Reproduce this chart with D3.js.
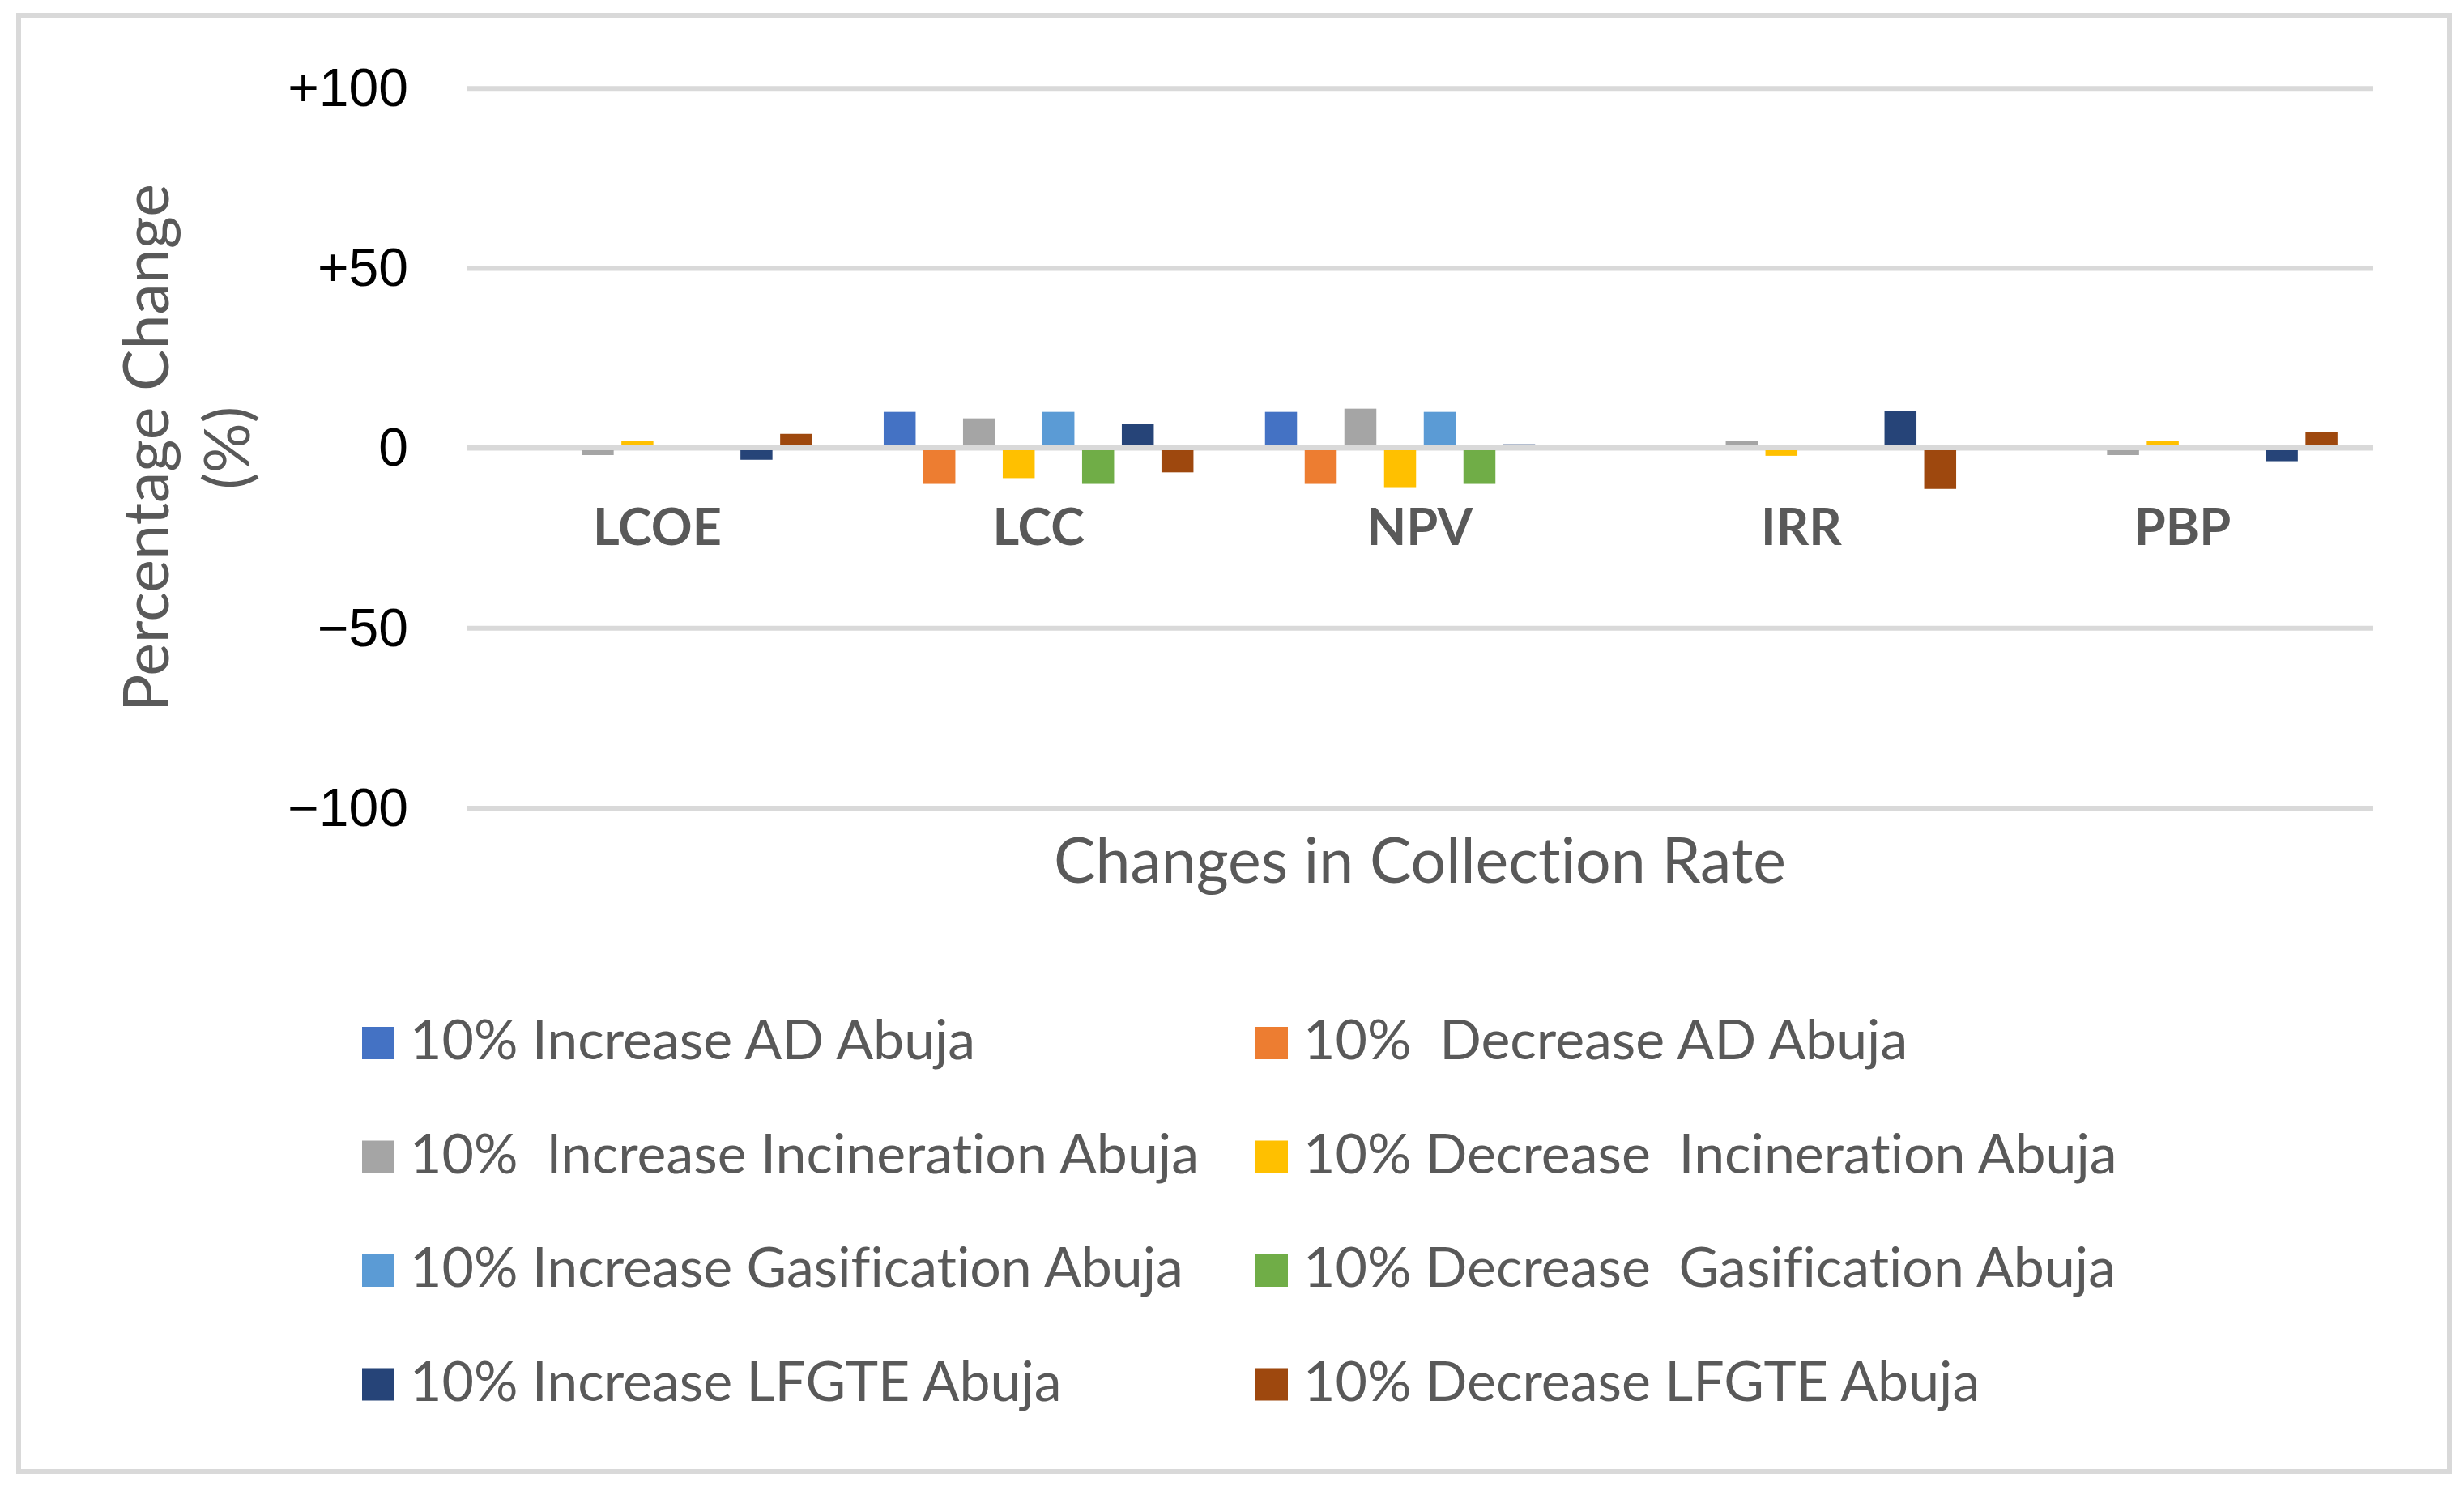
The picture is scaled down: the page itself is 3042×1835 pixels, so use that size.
<!DOCTYPE html>
<html>
<head>
<meta charset="utf-8">
<script src="https://cdn.jsdelivr.net/npm/d3@7"></script>
<style>
  body { margin: 0; background: #ffffff; }
  svg { display: block; }
  text { font-variant-ligatures: none; font-feature-settings: "liga" 0, "clig" 0; }
</style>
</head>
<body>
<div id="chart"></div>
<script>
// categories along the x axis
const categories = ["LCOE", "LCC", "NPV", "IRR", "PBP"];

// series names, as in the legend (double spaces kept)
const seriesNames = [
    "10% Increase AD Abuja",
    "10%  Decrease AD Abuja",
    "10%  Increase Incineration Abuja",
    "10% Decrease  Incineration Abuja",
    "10% Increase Gasification Abuja",
    "10% Decrease  Gasification Abuja",
    "10% Increase LFGTE Abuja",
    "10% Decrease LFGTE Abuja"
];

// percentage change per category
const incAD     = [0, 10, 10, 0, 0];
const decAD     = [0, -10, -10, 0, 0];
const incIncin  = [-2, 8.2, 10.9, 2, -2];
const decIncin  = [2, -8.4, -10.9, -2.2, 2];
const incGas    = [0, 10, 10, 0, 0];
const decGas    = [0, -10, -10, 0, 0];
const incLFGTE  = [-3.3, 6.6, 1, 10.2, -3.7];
const decLFGTE  = [3.9, -6.8, 0, -11.4, 4.4];

const seriesValues = [incAD, decAD, incIncin, decIncin, incGas, decGas, incLFGTE, decLFGTE];
const colors = ["#4472C4", "#ED7D31", "#A5A5A5", "#FFC000", "#5B9BD5", "#70AD47", "#264478", "#9E480E"];

const yTicks = [-100, -50, 0, 50, 100];

const W = 3042, H = 1835;
const plot = { left: 576, right: 2930, top: 108.7, bottom: 997.5 };

let svg = d3.select("#chart")
    .append("svg")
        .attr("width", W)
        .attr("height", H);

// outer frame
svg.append("rect")
    .attr("x", 23).attr("y", 19)
    .attr("width", 3001).attr("height", 1798)
    .attr("fill", "#ffffff")
    .attr("stroke", "#d9d9d9")
    .attr("stroke-width", 6);

let x0 = d3.scaleBand()
    .domain(categories)
    .range([plot.left, plot.right])
    .paddingInner(0.1876)
    .paddingOuter(0.0938);

let x1 = d3.scaleBand()
    .domain(d3.range(seriesNames.length))
    .range([0, x0.bandwidth()])
    .paddingInner(0.194)
    .paddingOuter(0);

let y = d3.scaleLinear()
    .domain([-100, 100])
    .range([plot.bottom, plot.top]);

// y axis with gridlines
let yAxis = svg.append("g")
    .attr("transform", "translate(" + plot.left + ",0)")
    .call(d3.axisLeft(y)
        .tickValues(yTicks)
        .tickSize(-(plot.right - plot.left))
        .tickPadding(72)
        .tickFormat(d => d > 0 ? "+" + d : (d < 0 ? "\u2212" + Math.abs(d) : "0")));

yAxis.select(".domain").remove();
yAxis.selectAll("line")
    .attr("stroke", "#d9d9d9")
    .attr("stroke-width", 6);
yAxis.selectAll("text")
    .attr("dy", "0.33em")
    .style("font-family", "'Liberation Sans', Arial, sans-serif")
    .style("font-size", "66px")
    .attr("fill", "#000000");

// bars
let flat = [];
categories.forEach(function (c, ci) {
    seriesValues.forEach(function (vals, si) {
        flat.push({ cat: c, s: si, v: vals[ci] });
    });
});

svg.append("g")
    .selectAll("rect")
    .data(flat)
    .enter()
    .append("rect")
        .attr("x", d => x0(d.cat) + x1(d.s))
        .attr("y", d => y(Math.max(0, d.v)))
        .attr("width", x1.bandwidth())
        .attr("height", d => Math.abs(y(d.v) - y(0)))
        .attr("fill", d => colors[d.s]);

// zero line drawn over bar bases
svg.append("line")
    .attr("x1", plot.left).attr("x2", plot.right)
    .attr("y1", y(0)).attr("y2", y(0))
    .attr("stroke", "#d9d9d9")
    .attr("stroke-width", 6);

// category labels next to the zero line
let xAxis = svg.append("g")
    .attr("transform", "translate(0," + y(0) + ")")
    .call(d3.axisBottom(x0).tickSize(0).tickPadding(120));
xAxis.select(".domain").remove();
xAxis.selectAll("text")
    .attr("dy", "0")
    .style("font-family", "Lato, sans-serif")
    .style("font-weight", "bold")
    .style("font-size", "63px")
    .attr("fill", "#595959");

// axis titles
svg.append("text")
    .attr("x", (plot.left + plot.right) / 2)
    .attr("y", 1090)
    .attr("text-anchor", "middle")
    .style("font-family", "Lato, sans-serif")
    .style("font-size", "77px")
    .attr("fill", "#595959")
    .text("Changes in Collection Rate");

let yTitle = svg.append("text")
    .attr("transform", "translate(208," + ((plot.top + plot.bottom) / 2) + ") rotate(-90)")
    .attr("text-anchor", "middle")
    .style("font-family", "Lato, sans-serif")
    .style("font-size", "77px")
    .attr("fill", "#595959");
yTitle.append("tspan").attr("x", 0).attr("y", 0).text("Percentage Change");
yTitle.append("tspan").attr("x", 0).attr("y", 100).text("(%)");

// legend, two columns
const legendCols = [447, 1550];
let legend = svg.append("g")
    .selectAll("g")
    .data(seriesNames)
    .enter()
    .append("g")
        .attr("transform", (d, i) => "translate(" + legendCols[i % 2] + "," + (1288 + Math.floor(i / 2) * 140.5) + ")");

legend.append("rect")
    .attr("x", 0).attr("y", -20)
    .attr("width", 40).attr("height", 40)
    .attr("fill", (d, i) => colors[i]);

legend.append("text")
    .attr("x", 59)
    .attr("y", 20)
    .style("white-space", "pre")
    .style("font-family", "Lato, sans-serif")
    .style("font-size", "68px")
    .attr("fill", "#595959")
    .text(d => d);
</script>
</body>
</html>
